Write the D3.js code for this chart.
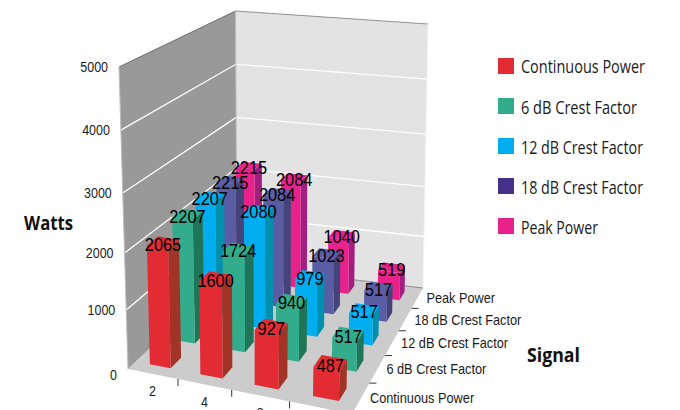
<!DOCTYPE html>
<html><head><meta charset="utf-8">
<script src="https://cdnjs.cloudflare.com/ajax/libs/d3/7.8.5/d3.min.js"></script>
<style>html,body{margin:0;padding:0;background:#fff;overflow:hidden}svg{display:block}</style>
</head><body><svg id="c" width="680" height="410"></svg>
<script>
const categories = ["2","4","8","16"];
const seriesNames = ["Continuous Power","6 dB Crest Factor","12 dB Crest Factor","18 dB Crest Factor","Peak Power"];
const continuousPower = [2065,1600,927,487];
const crest6 = [2207,1724,940,517];
const crest12 = [2207,2080,979,517];
const crest18 = [2215,2084,1023,517];
const peakPower = [2215,2084,1040,519];
const yTicks = [0,1000,2000,3000,4000,5000];
const legendColors = ["#E32B33","#33AC8B","#00AEEF","#45308C","#E9218B"];
const frontColors = ["#E32B33","#33AC8B","#00AEEF","#5A5CA4","#E9218B"];
const sideColors = ["#A23327","#1F7558","#0090AE","#45447A","#A01F80"];
const topColors = ["#E32B33","#33AC8B","#00AEEF","#5A5CA4","#E9218B"];
const allSeries = [continuousPower,crest6,crest12,crest18,peakPower];

const svg = d3.select("#c");
const xS = d3.scaleBand().domain(categories).range([0,1]).paddingInner(0.58).paddingOuter(0.29);
const zS = d3.scaleBand().domain(seriesNames).range([0,1]).paddingInner(0.58).paddingOuter(0.29);
// height scale: slight foreshortening of the vertical axis
const hS = d3.scaleLinear().domain(yTicks).range([0,0.195,0.384,0.583,0.791,1]);

const FL=[128,369],BL=[237,266],BR=[423,288],FR=[352,414];
const dFL=[-9,-302],dBL=[-1.5,-255],dBR=[5,-264],dFR=[7,-310];
function quad(p0,p1,p2,p3){
  const dx1=p1[0]-p2[0],dx2=p3[0]-p2[0],sx=p0[0]-p1[0]+p2[0]-p3[0];
  const dy1=p1[1]-p2[1],dy2=p3[1]-p2[1],sy=p0[1]-p1[1]+p2[1]-p3[1];
  const den=dx1*dy2-dx2*dy1;
  const g=(sx*dy2-dx2*sy)/den,h=(dx1*sy-sx*dy1)/den;
  return [[p1[0]-p0[0]+g*p1[0],p3[0]-p0[0]+h*p3[0],p0[0]],
          [p1[1]-p0[1]+g*p1[1],p3[1]-p0[1]+h*p3[1],p0[1]],
          [g,h,1]];
}
const H=quad(FL,FR,BR,BL);
function P(u,v,t){
  const W=H[2][0]*u+H[2][1]*v+1;
  const fx=(H[0][0]*u+H[0][1]*v+H[0][2])/W, fy=(H[1][0]*u+H[1][1]*v+H[1][2])/W;
  const bl=i=>(1-u)*(1-v)*dFL[i]+u*(1-v)*dFR[i]+u*v*dBR[i]+(1-u)*v*dBL[i];
  return [fx+t*bl(0),fy+t*bl(1)];
}
const poly=pts=>"M"+pts.map(p=>p.map(n=>n.toFixed(2)).join(",")).join("L")+"Z";

svg.append("path").attr("d",poly([P(0,0,0),P(0,1,0),P(0,1,1),P(0,0,1)])).attr("fill","#999999");
svg.append("path").attr("d",poly([P(0,1,0),P(1,1,0),P(1,1,1),P(0,1,1)])).attr("fill","#E3E3E3");
svg.append("path").attr("d",poly([P(0,0,0),P(1,0,0),P(1,1,0),P(0,1,0)])).attr("fill","#CCCCCC");
yTicks.filter(t=>t>0&&t<5000).forEach(t=>{
  const h=hS(t),a=P(0,0,h),b=P(0,1,h),c=P(1,1,h);
  svg.append("path").attr("d",`M${a}L${b}L${c}`).attr("fill","none").attr("stroke","#fff").attr("stroke-width",1.3);
});
svg.append("path").attr("d",`M${P(0,0,1)}L${P(0,1,1)}`).attr("stroke","#555").attr("stroke-width",.8);
svg.append("path").attr("d",`M${P(0,1,1)}L${P(1,1,1)}`).attr("stroke","#777").attr("stroke-width",.8);
svg.append("path").attr("d",`M${P(0,0,0)}L${P(0,0,1)}`).attr("stroke","#bbb").attr("stroke-width",1);
svg.append("path").attr("d",`M${P(0,1,0)}L${P(0,1,1)}`).attr("stroke","#bbb").attr("stroke-width",1);
svg.append("path").attr("d",`M${P(1,1,0)}L${P(1,1,1)}`).attr("stroke","#f2f2f2").attr("stroke-width",1);
svg.append("path").attr("d",`M${P(0,1,0)}L${P(1,1,0)}`).attr("stroke","#777").attr("stroke-width",.8);

const labels=[];
d3.range(seriesNames.length-1,-1,-1).forEach(si=>{
  const v0=zS(seriesNames[si]),v1=v0+zS.bandwidth();
  categories.forEach((cat,ci)=>{
    const val=allSeries[si][ci],u0=xS(cat),u1=u0+xS.bandwidth(),h=hS(val);
    const g=svg.append("g");
    g.append("path").attr("d",poly([P(u1,v0,0),P(u1,v1,0),P(u1,v1,h),P(u1,v0,h)])).attr("fill",sideColors[si]);
    g.append("path").attr("d",poly([P(u0,v0,0),P(u1,v0,0),P(u1,v0,h),P(u0,v0,h)])).attr("fill",frontColors[si]);
    g.append("path").attr("d",poly([P(u0,v0,h),P(u1,v0,h),P(u1,v1,h),P(u0,v1,h)])).attr("fill",topColors[si]);
    labels.push({val,pos:P((u0+u1)/2,(v0+v1)/2,h)});
  });
});
const sans="'Liberation Sans',Arial,sans-serif";
const squeeze=(sel,f)=>sel.each(function(){
  const l=this.getComputedTextLength();
  d3.select(this).attr("textLength",(l*f).toFixed(1)).attr("lengthAdjust","spacingAndGlyphs");
});
svg.selectAll(".dl").data(labels).join("text").attr("class","dl")
  .attr("x",d=>d.pos[0]).attr("y",d=>d.pos[1]+2).attr("dy","0.35em").attr("text-anchor","middle")
  .attr("font-family",sans).attr("font-size",19).attr("fill","#000").text(d=>d.val).call(squeeze,0.86);

yTicks.forEach(t=>{
  const p=P(0,0,hS(t));
  svg.append("text").attr("x",p[0]-11).attr("y",p[1]+(t===0?6:0)).attr("dy","0.35em").attr("text-anchor","end")
   .attr("font-family",sans).attr("font-size",15).attr("fill","#1a1a1a").text(t).call(squeeze,0.83);
});
d3.range(1,categories.length+1).forEach(i=>{
  const p=P(i/categories.length,0,0);
  svg.append("line").attr("x1",p[0]).attr("y1",p[1]).attr("x2",p[0]).attr("y2",p[1]+7).attr("stroke","#333");
});
categories.forEach(c=>{
  const p=P(xS(c)+xS.bandwidth()/2,0,0);
  svg.append("text").attr("x",p[0]).attr("y",p[1]+17).attr("dy","0.35em").attr("text-anchor","middle")
   .attr("font-family",sans).attr("font-size",15).attr("fill","#1a1a1a").text(c).call(squeeze,0.83);
});
d3.range(1,seriesNames.length).forEach(i=>{
  const p=P(1,i/seriesNames.length,0);
  svg.append("line").attr("x1",p[0]).attr("y1",p[1]).attr("x2",p[0]+7).attr("y2",p[1]).attr("stroke","#333");
});
seriesNames.forEach(s=>{
  const p=P(1,zS(s)+zS.bandwidth()/2,0);
  svg.append("text").attr("x",p[0]+9).attr("y",p[1]).attr("dy","0.35em")
   .attr("font-family",sans).attr("font-size",15).attr("fill","#1a1a1a").text(s).call(squeeze,0.85);
});
svg.append("text").attr("x",24).attr("y",230).attr("font-family","'Open Sans',sans-serif").attr("font-weight",700).attr("font-size",20).attr("textLength",49).attr("lengthAdjust","spacingAndGlyphs").attr("fill","#111").text("Watts");
svg.append("text").attr("x",527).attr("y",362).attr("font-family","'Open Sans',sans-serif").attr("font-weight",700).attr("font-size",20).attr("textLength",53).attr("lengthAdjust","spacingAndGlyphs").attr("fill","#111").text("Signal");
const legW=[124,116,122,122,77];
seriesNames.forEach((s,i)=>{
  const y=67+i*40.2;
  svg.append("rect").attr("x",498).attr("y",58+i*40).attr("width",16).attr("height",16).attr("fill",legendColors[i]);
  svg.append("text").attr("x",521).attr("y",y).attr("dy","0.35em").attr("font-family","'Open Sans',sans-serif").attr("font-size",18)
   .attr("textLength",legW[i]).attr("lengthAdjust","spacingAndGlyphs").attr("fill","#1a1a1a").text(s);
});
</script></body></html>
